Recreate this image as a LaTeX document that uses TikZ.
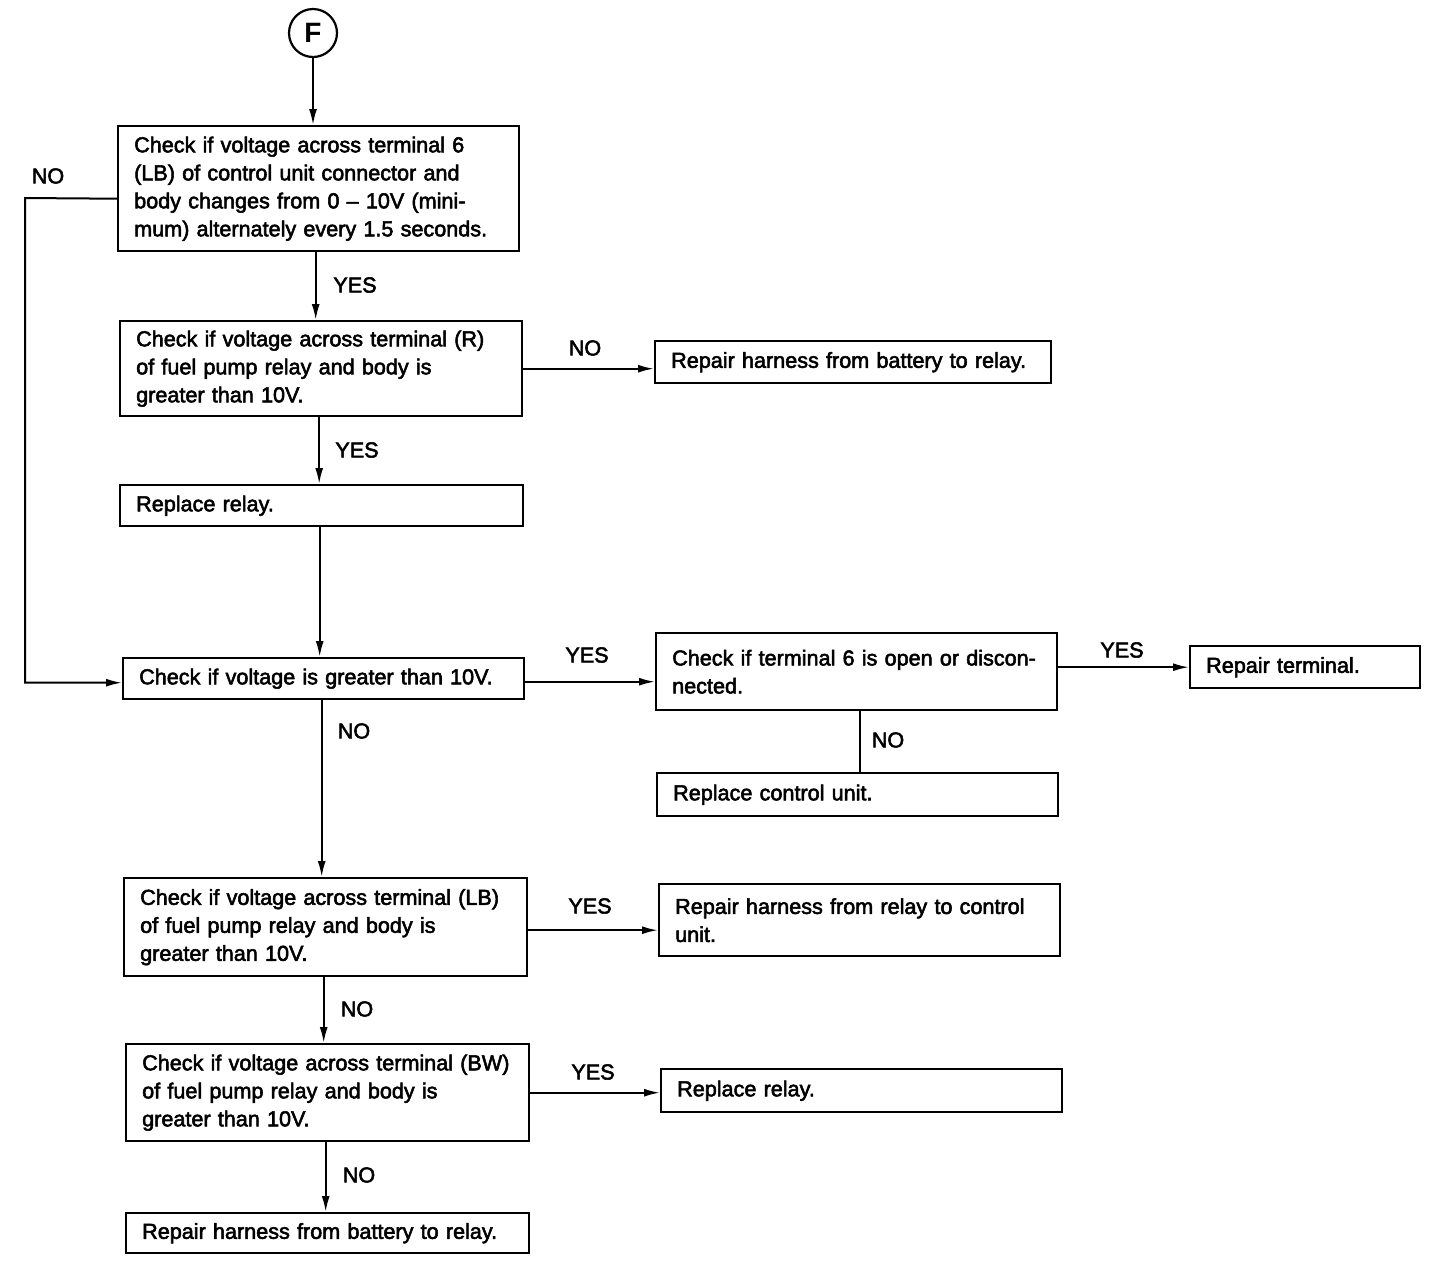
\documentclass[tikz,border=0pt]{standalone}
\usepackage{fontspec}
\setmainfont{Liberation Sans}
\newfontfamily\medfont{Liberation Sans}[FakeBold=2.5]
\usetikzlibrary{arrows.meta}
\newcommand{\ml}[1]{\mbox{#1}}
\begin{document}
\begin{tikzpicture}[x=0.5pt,y=-0.5pt,
  txt/.style={font=\medfont\fontsize{10.8}{14}\selectfont},
  box/.style={draw, line width=1.2pt, rectangle, anchor=north west, inner xsep=8pt, inner ysep=0pt, align=left, txt},
  arr/.style={line width=1pt, -{Latex[length=8pt,width=4pt]}},
  ln/.style={line width=1pt},
  lbl/.style={txt, inner sep=0pt}]
\useasboundingbox (0,0) rectangle (1440,1260);
\node[draw, circle, line width=1.1pt, minimum size=24pt, inner sep=0pt, font=\fontsize{14}{14}\selectfont\bfseries] (F) at (313,33) {F};
\node[box, minimum width=200.5pt, minimum height=62.5pt, text width=184.5pt] (b1) at (117,125) {\ml{Check if voltage across terminal 6}\\\ml{(LB) of control unit connector and}\\\ml{body changes from 0 \textendash\ 10V (mini-}\\\ml{mum) alternately every 1.5 seconds.}};
\node[box, minimum width=201pt, minimum height=47.5pt, text width=185pt] (b2) at (119,320) {\ml{Check if voltage across terminal (R)}\\\ml{of fuel pump relay and body is}\\\ml{greater than 10V.}};
\node[box, minimum width=198pt, minimum height=21pt, text width=182pt] (r1) at (654,340) {\ml{Repair harness from battery to relay.}};
\node[box, minimum width=201.5pt, minimum height=20.5pt, text width=185.5pt] (b3) at (119,484) {\ml{Replace relay.}};
\node[box, minimum width=200.5pt, minimum height=20.5pt, text width=184.5pt] (b4) at (122,657) {\ml{Check if voltage is greater than 10V.}};
\node[box, minimum width=200.5pt, minimum height=38.5pt, text width=184.5pt] (b5) at (655,632) {\ml{Check if terminal 6 is open or discon-}\\\ml{nected.}};
\node[box, minimum width=115pt, minimum height=21pt, text width=99pt] (b6) at (1189,645) {\ml{Repair terminal.}};
\node[box, minimum width=200.5pt, minimum height=21.5pt, text width=184.5pt] (b7) at (656,772) {\ml{Replace control unit.}};
\node[box, minimum width=201.5pt, minimum height=49pt, text width=185.5pt] (b8) at (123,877) {\ml{Check if voltage across terminal (LB)}\\\ml{of fuel pump relay and body is}\\\ml{greater than 10V.}};
\node[box, minimum width=200.5pt, minimum height=36pt, text width=184.5pt] (b9) at (658,883) {\ml{Repair harness from relay to control}\\\ml{unit.}};
\node[box, minimum width=201.5pt, minimum height=48.5pt, text width=185.5pt] (b10) at (125,1043) {\ml{Check if voltage across terminal (BW)}\\\ml{of fuel pump relay and body is}\\\ml{greater than 10V.}};
\node[box, minimum width=200.5pt, minimum height=21.5pt, text width=184.5pt] (b11) at (660,1068) {\ml{Replace relay.}};
\node[box, minimum width=201.5pt, minimum height=20pt, text width=185.5pt] (b12) at (125,1212) {\ml{Repair harness from battery to relay.}};
% connectors
\draw[arr] (F.south) -- (F.south |- b1.north);
\coordinate (c1) at (25,198);
\draw[arr] ([yshift=-5pt]b1.west) -- (c1) |- ([yshift=-2pt]b4.west);
\draw[arr] ([xshift=-1.5pt]b1.south) -- ([xshift=-1.5pt]b1.south |- b2.north);
\draw[arr] (b2.east) -- (b2.east -| r1.west);
\draw[arr] ([xshift=-1pt]b2.south) -- ([xshift=-1pt]b2.south |- b3.north);
\draw[arr] ([xshift=-1pt]b3.south) -- ([xshift=-1pt]b3.south |- b4.north);
\draw[arr] ([yshift=-1.5pt]b4.east) -- ([yshift=-1.5pt]b4.east -| b5.west);
\draw[arr] (b6.west -| b5.east) -- (b6.west);
\draw[ln] ([xshift=1.5pt]b5.south) -- ([xshift=1.5pt]b5.south |- b7.north);
\draw[arr] ([xshift=-1pt]b4.south) -- ([xshift=-1pt]b4.south |- b8.north);
\draw[arr] ([yshift=-1.5pt]b8.east) -- ([yshift=-1.5pt]b8.east -| b9.west);
\draw[arr] ([xshift=-1pt]b8.south) -- ([xshift=-1pt]b8.south |- b10.north);
\draw[arr] (b10.east) -- (b10.east -| b11.west);
\draw[arr] ([xshift=-1pt]b10.south) -- ([xshift=-1pt]b10.south |- b12.north);
% labels
\node[lbl] (l1) at (48,176) {NO};
\node[lbl] (l2) at (355,285) {YES};
\node[lbl] (l3) at (585,348) {NO};
\node[lbl] (l4) at (357,450) {YES};
\node[lbl] (l5) at (587,655) {YES};
\node[lbl] (l6) at (1122,650) {YES};
\node[lbl] (l7) at (888,740) {NO};
\node[lbl] (l8) at (354,731) {NO};
\node[lbl] (l9) at (590,906) {YES};
\node[lbl] (l10) at (357,1009) {NO};
\node[lbl] (l11) at (593,1072) {YES};
\node[lbl] (l12) at (359,1175) {NO};
\end{tikzpicture}
\end{document}
